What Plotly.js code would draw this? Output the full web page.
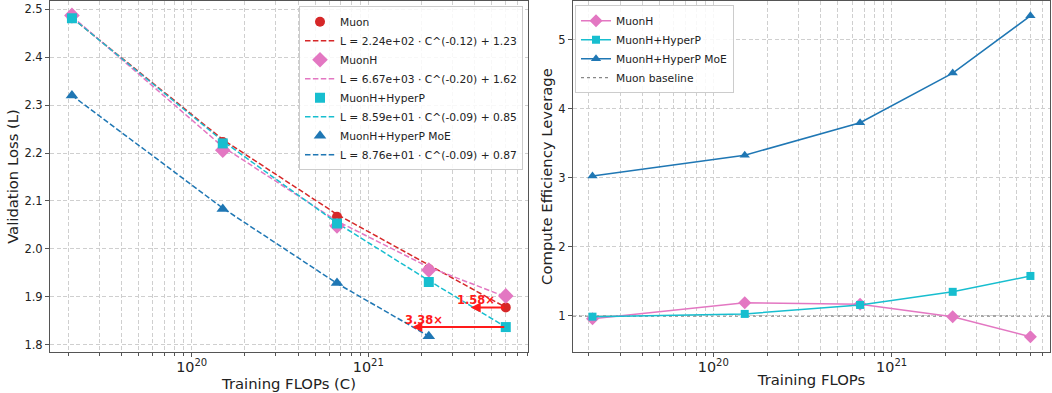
<!DOCTYPE html>
<html>
<head>
<meta charset="utf-8">
<script src="https://cdn.plot.ly/plotly-3.0.1.min.js"></script>
<style>html,body{margin:0;padding:0;background:#fff;}#chart{width:1052px;height:393px;}</style>
</head>
<body>
<div id="chart"></div>
<script>
// ---- data ----
const flops = [2.1e19, 1.5e20, 6.65e20, 2.2e21, 6.0e21];
const flopsMoE = [2.1e19, 1.5e20, 6.65e20, 2.2e21];

const lossMuon   = [2.481, 2.223, 2.067, 1.958, 1.878];
const lossMuonH  = [2.487, 2.206, 2.048, 1.956, 1.902];
const lossHyperP = [2.481, 2.220, 2.053, 1.931, 1.837];
const lossMoE    = [2.320, 2.083, 1.929, 1.818];

const fitMuon   = [2.482, 2.228, 2.072, 1.966, 1.878];
const fitMuonH  = [2.485, 2.213, 2.058, 1.962, 1.900];
const fitHyperP = [2.482, 2.225, 2.054, 1.934, 1.837];
const fitMoE    = [2.320, 2.085, 1.928, 1.818];

const fitLabels = [
  "L = 2.24e+02 · C^(-0.12) + 1.23",
  "L = 6.67e+03 · C^(-0.20) + 1.62",
  "L = 8.59e+01 · C^(-0.09) + 0.85",
  "L = 8.76e+01 · C^(-0.09) + 0.87"
];
const seriesNames = ["Muon", "MuonH", "MuonH+HyperP", "MuonH+HyperP MoE"];

const levMuonH  = [0.96, 1.19, 1.17, 0.99, 0.70];
const levHyperP = [0.99, 1.03, 1.16, 1.35, 1.58];
const levMoE    = [3.03, 3.33, 3.80, 4.52, 5.35];
const baselineLevel = 1;

const speedups = [1.58, 3.38];   // HyperP vs Muon, MoE vs HyperP at largest budget
const speedupLabels = ["1.58×", "3.38×"];

// ---- styles ----
const C_RED = "#d62728", C_PINK = "#e377c2", C_CYAN = "#17becf", C_BLUE = "#1f77b4";
const FONT = "DejaVu Sans";
const dashFit = "5.5px,2.4px";
const gridDash = "4px,2.5px";
const gridColor = "#cfcfcf";
const TICK_SIZE = 11.5, TITLE_SIZE = 14.8, LEGEND_SIZE = 10.7, ANN_SIZE = 11.5;

const traces = [];
// left panel
function markers(x, y, name, color, symbol, size) {
  return {x, y, name, type: "scatter", mode: "markers", xaxis: "x", yaxis: "y",
          marker: {color, symbol, size, line: {width: 0}}, legend: "legend"};
}
function fit(x, y, name, color) {
  return {x, y, name, type: "scatter", mode: "lines", xaxis: "x", yaxis: "y",
          line: {color, width: 1.5, dash: dashFit}, legend: "legend"};
}
traces.push(fit(flops, fitMuon, fitLabels[0], C_RED));
traces.push(fit(flops, fitMuonH, fitLabels[1], C_PINK));
traces.push(fit(flops, fitHyperP, fitLabels[2], C_CYAN));
traces.push(fit(flopsMoE, fitMoE, fitLabels[3], C_BLUE));
traces.push(markers(flops, lossMuon, seriesNames[0], C_RED, "circle", 10));
traces.push(markers(flops, lossMuonH, seriesNames[1], C_PINK, "diamond", 12));
traces.push(markers(flops, lossHyperP, seriesNames[2], C_CYAN, "square", 10));
traces.push(markers(flopsMoE, lossMoE, seriesNames[3], C_BLUE, "triangle-up", 11));
// legend ranks to interleave markers and fits
traces[4].legendrank = 1; traces[0].legendrank = 2;
traces[5].legendrank = 3; traces[1].legendrank = 4;
traces[6].legendrank = 5; traces[2].legendrank = 6;
traces[7].legendrank = 7; traces[3].legendrank = 8;

// right panel
function levTrace(y, name, color, symbol, size) {
  return {x: flops, y, name, type: "scatter", mode: "lines+markers", xaxis: "x2", yaxis: "y2",
          line: {color, width: 1.5}, marker: {color, symbol, size, line: {width: 0}}, legend: "legend2"};
}
traces.push(levTrace(levMuonH, "MuonH", C_PINK, "diamond", 10));
traces.push(levTrace(levHyperP, "MuonH+HyperP", C_CYAN, "square", 8));
traces.push(levTrace(levMoE, "MuonH+HyperP MoE", C_BLUE, "triangle-up", 9));

const last = flops.length - 1;
const headMuon = Math.log10(flops[last] / speedups[0]);
const headMoE = Math.log10(flops[last] / speedups[1]);
const tail = Math.log10(flops[last]);

const annotations = [
  {xref: "x", yref: "y", axref: "x", ayref: "y", x: headMuon, y: lossMuon[last], ax: tail, ay: lossMuon[last],
   text: "", showarrow: true, arrowhead: 2, arrowsize: 1, arrowwidth: 2, arrowcolor: "#ff1a1a", standoff: 0, startstandoff: 0},
  {xref: "x", yref: "y", axref: "x", ayref: "y", x: headMoE, y: lossHyperP[last], ax: tail, ay: lossHyperP[last],
   text: "", showarrow: true, arrowhead: 2, arrowsize: 1, arrowwidth: 2, arrowcolor: "#ff1a1a", standoff: 0, startstandoff: 0},
  {xref: "x", yref: "y", x: headMuon, y: lossMuon[last], text: speedupLabels[0], showarrow: false,
   xanchor: "center", yanchor: "middle", xshift: 5, yshift: 7,
   font: {family: FONT, size: ANN_SIZE, color: "#ff1a1a", weight: "bold"}},
  {xref: "x", yref: "y", x: headMoE, y: lossHyperP[last], text: speedupLabels[1], showarrow: false,
   xanchor: "center", yanchor: "middle", xshift: 12, yshift: 7,
   font: {family: FONT, size: ANN_SIZE, color: "#ff1a1a", weight: "bold"}}
];

function xAxis(domain, range, title, anchor) {
  return {
    type: "log", domain, range, anchor, dtick: 1, tick0: 0, exponentformat: "power",
    showline: true, mirror: true, linecolor: "#555", linewidth: 1,
    ticks: "outside", ticklen: 4, tickcolor: "#555", tickwidth: 1, ticklabelstandoff: -2,
    tickfont: {family: FONT, size: TICK_SIZE, color: "#222"},
    showgrid: true, gridcolor: gridColor, griddash: gridDash, gridwidth: 1,
    minor: {dtick: "D1", ticks: "outside", ticklen: 2.5, tickcolor: "#555", showgrid: true,
            gridcolor: gridColor, griddash: gridDash, gridwidth: 1},
    zeroline: false,
    title: {text: title, font: {family: FONT, size: TITLE_SIZE, color: "#222"}, standoff: 0}
  };
}
function yAxis(domain, range, dtick, fmt, title, anchor) {
  return {
    domain, range, anchor, dtick, tickformat: fmt,
    showline: true, mirror: true, linecolor: "#555", linewidth: 1,
    ticks: "outside", ticklen: 4, tickcolor: "#555", tickwidth: 1,
    tickfont: {family: FONT, size: TICK_SIZE, color: "#222"},
    showgrid: true, gridcolor: gridColor, griddash: gridDash, gridwidth: 1,
    zeroline: false,
    title: {text: title, font: {family: FONT, size: TITLE_SIZE, color: "#222"}, standoff: 2}
  };
}

const layout = {
  width: 1052, height: 393,
  margin: {l: 50, r: 2, t: 1, b: 41},
  paper_bgcolor: "#fff", plot_bgcolor: "#fff",
  font: {family: FONT, color: "#222"},
  xaxis: xAxis([0, 0.478], [19.198, 21.904], "Training FLOPs (C)", "y"),
  yaxis: yAxis([0, 1], [1.785, 2.517], 0.1, ".1f", "Validation Loss (L)", "x"),
  xaxis2: xAxis([0.523, 1.0], [19.213, 21.888], "Training FLOPs", "y2"),
  yaxis2: yAxis([0, 1], [0.478, 5.565], 1, "d", "Compute Efficiency Leverage", "x2"),
  showlegend: true,
  legend: {x: 0.473, y: 0.985, xanchor: "right", yanchor: "top",
           bgcolor: "rgba(255,255,255,0.85)", bordercolor: "#cccccc", borderwidth: 1,
           font: {family: FONT, size: LEGEND_SIZE, color: "#222"}, tracegroupgap: 0, traceorder: "normal"},
  legend2: {x: 0.525, y: 0.988, xanchor: "left", yanchor: "top",
            bgcolor: "rgba(255,255,255,0.85)", bordercolor: "#cccccc", borderwidth: 1,
            font: {family: FONT, size: LEGEND_SIZE, color: "#222"}, tracegroupgap: 0},
  shapes: [
    {type: "line", xref: "x2 domain", yref: "y2", x0: 0, x1: 1, y0: baselineLevel, y1: baselineLevel,
     line: {color: "#888", width: 1.3, dash: "dot"}, layer: "below",
     showlegend: true, name: "Muon baseline", legend: "legend2", legendrank: 2000}
  ],
  annotations
};

Plotly.newPlot("chart", traces, layout, {displayModeBar: false, staticPlot: true});
</script>
</body>
</html>
